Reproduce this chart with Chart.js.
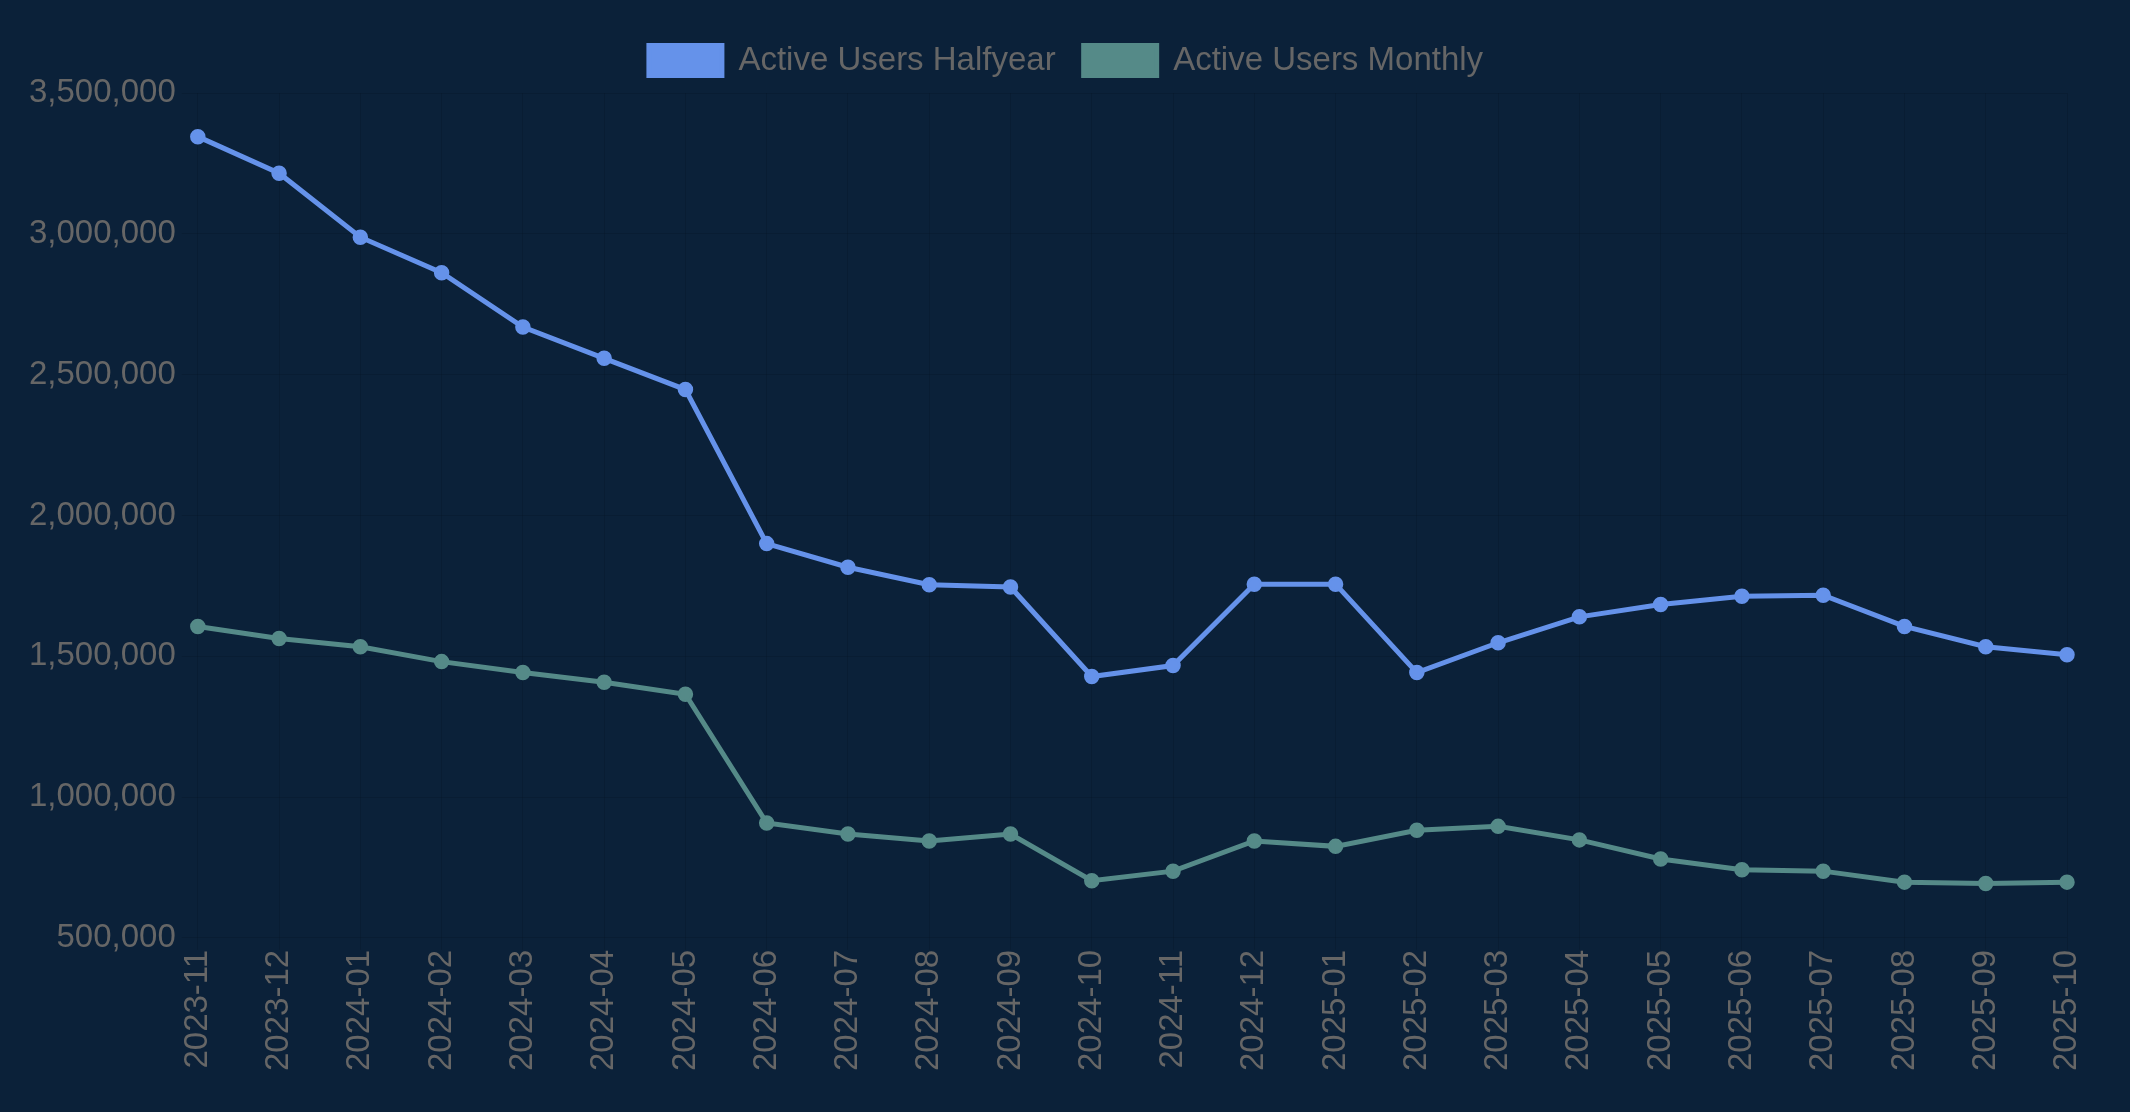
<!DOCTYPE html>
<html>
<head>
<meta charset="utf-8">
<script src="https://cdn.jsdelivr.net/npm/chart.js@4"></script>
<style>
  html, body { margin: 0; padding: 0; background: #0b2139; }
  #wrap { width: 2130px; height: 1112px; }
</style>
</head>
<body>
<div id="wrap"><canvas id="myChart"></canvas></div>
<script>
const months = [
  "2023-11", "2023-12", "2024-01", "2024-02", "2024-03", "2024-04", "2024-05", "2024-06",
  "2024-07", "2024-08", "2024-09", "2024-10", "2024-11", "2024-12", "2025-01", "2025-02",
  "2025-03", "2025-04", "2025-05", "2025-06", "2025-07", "2025-08", "2025-09", "2025-10"
];
const halfyear = [
  3345000, 3215000, 2988000, 2862000, 2669000, 2558000, 2447000, 1900000,
  1816000, 1754000, 1746000, 1428000, 1467000, 1756000, 1756000, 1442000,
  1548000, 1640000, 1684000, 1713000, 1717000, 1606000, 1534000, 1505000
];
const monthly = [
  1606000, 1563000, 1534000, 1481000, 1442000, 1408000, 1365000, 908000,
  869000, 844000, 869000, 703000, 737000, 844000, 825000, 882000,
  896000, 848000, 780000, 742000, 737000, 698000, 693000, 698000
];

const ctx = document.getElementById("myChart");

Chart.defaults.font.family = "'Liberation Sans', Arial, sans-serif";
Chart.defaults.font.size = 33;
Chart.defaults.color = "#666";

function line(label, data, colour) {
  return {
    label: label,
    data: data,
    borderColor: colour,
    backgroundColor: colour,
    borderWidth: 5,
    pointRadius: 6.5,
    pointBorderWidth: 2.5,
    pointHoverRadius: 6.5,
    tension: 0,
  };
}

// a little more room under the legend
const legendGap = {
  id: "legendGap",
  beforeInit(chart) {
    const fit = chart.legend.fit;
    chart.legend.fit = function () {
      fit.bind(chart.legend)();
      this.height += 6;
    };
  },
};

new Chart(ctx, {
  type: "line",
  data: {
    labels: months,
    datasets: [
      line("Active Users Halfyear", halfyear, "#6592ea"),
      line("Active Users Monthly", monthly, "#558a88"),
    ],
  },
  options: {
    responsive: true,
    maintainAspectRatio: false,
    animation: false,
    layout: { padding: { left: 23, right: 21, top: 16, bottom: 41 } },
    plugins: {
      legend: {
        // the box gets the dataset border on top of this size
        labels: { boxWidth: 73, boxHeight: 30, padding: 28 },
      },
      tooltip: { enabled: false },
    },
    scales: {
      y: {
        min: 500000,
        max: 3500000,
        ticks: { stepSize: 500000, padding: 6 },
        grid: { tickLength: 16 },
        border: { display: false },
      },
      // empty right-hand axis, only to keep space right of the plot
      yRight: {
        position: "right",
        grid: { display: false },
        ticks: { display: false },
        border: { display: false },
        afterFit: function (scale) {
          scale.width = 42;
        },
      },
      x: {
        ticks: { maxRotation: 90, minRotation: 90, padding: 0 },
        grid: { tickLength: 12 },
        border: { display: false },
      },
    },
  },
  plugins: [legendGap],
});
</script>
</body>
</html>
